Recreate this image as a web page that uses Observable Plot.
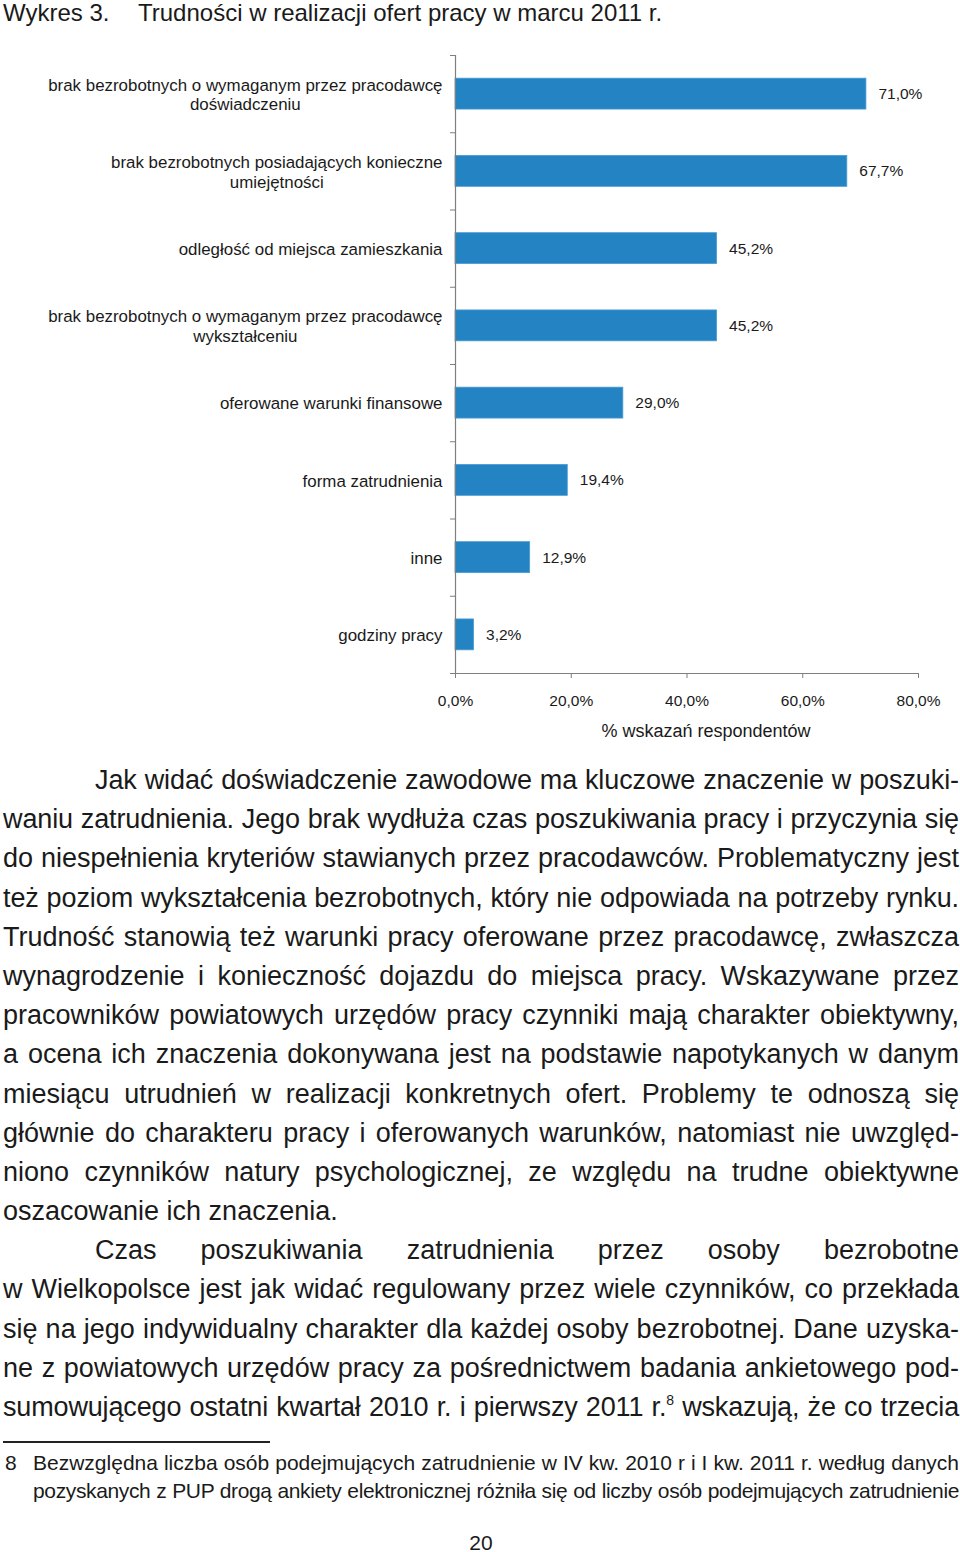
<!DOCTYPE html>
<html>
<head>
<meta charset="utf-8">
<script src="https://cdn.jsdelivr.net/npm/d3@7"></script>
<script src="https://cdn.jsdelivr.net/npm/@observablehq/plot@0.6"></script>
<style>
  html, body { margin: 0; padding: 0; background: #fff; }
  body { width: 960px; height: 1552px; position: relative; overflow: hidden;
         font-family: "Liberation Sans", Arial, sans-serif; color: #1a1a1a; }
  .abs { position: absolute; white-space: nowrap; }
  #title { top: 0; font-size: 24px; line-height: 26px; }
  #chart { position: absolute; left: 0; top: 30px; }
  #text { position: absolute; left: 3px; top: 761px; width: 956px; font-size: 27px; line-height: 39.2px; }
  .ln { text-align: justify; text-align-last: justify; white-space: nowrap; height: 39.2px; }
  .ln.last { text-align-last: left; }
  .ln.ind { padding-left: 92px; }
  sup { font-size: 14px; line-height: 0; vertical-align: 11px; }
  #rule { position: absolute; left: 3px; top: 1441px; width: 267px; height: 2px; background: #222; }
  #foot { position: absolute; left: 0; top: 1449px; width: 960px; font-size: 21px; line-height: 28px; }
  #foot .num { position: absolute; left: 5px; top: 0; }
  #foot .ft { position: absolute; left: 33px; width: 926px; }
  #page { position: absolute; left: 0; width: 962px; top: 1530px; text-align: center; font-size: 21px; line-height: 26px; }
</style>
</head>
<body>
<div id="title"><span class="abs" style="left:3px">Wykres 3.</span><span class="abs" style="left:138px">Trudności w realizacji ofert pracy w marcu 2011 r.</span></div>
<div id="chart"></div>
<div id="text"></div>
<div id="rule"></div>
<div id="foot"></div>
<div id="page">20</div>
<script>
// ---- chart data ----
const categories = [
  "brak bezrobotnych o wymaganym przez pracodawcę\ndoświadczeniu",
  "brak bezrobotnych posiadających konieczne\numiejętności",
  "odległość od miejsca zamieszkania",
  "brak bezrobotnych o wymaganym przez pracodawcę\nwykształceniu",
  "oferowane warunki finansowe",
  "forma zatrudnienia",
  "inne",
  "godziny pracy"
];
const values = [71.0, 67.7, 45.2, 45.2, 29.0, 19.4, 12.9, 3.2];
const xTicks = [0, 20, 40, 60, 80];
const xLabel = "% wskazań respondentów";

// ---- body text ----
const paragraphLines = [
  "Jak widać doświadczenie zawodowe ma kluczowe znaczenie w poszuki-",
  "waniu zatrudnienia. Jego brak wydłuża czas poszukiwania pracy i przyczynia się",
  "do niespełnienia kryteriów stawianych przez pracodawców. Problematyczny jest",
  "też poziom wykształcenia bezrobotnych, który nie odpowiada na potrzeby rynku.",
  "Trudność stanowią też warunki pracy oferowane przez pracodawcę, zwłaszcza",
  "wynagrodzenie i konieczność dojazdu do miejsca pracy. Wskazywane przez",
  "pracowników powiatowych urzędów pracy czynniki mają charakter obiektywny,",
  "a ocena ich znaczenia dokonywana jest na podstawie napotykanych w danym",
  "miesiącu utrudnień w realizacji konkretnych ofert. Problemy te odnoszą się",
  "głównie do charakteru pracy i oferowanych warunków, natomiast nie uwzględ-",
  "niono czynników natury psychologicznej, ze względu na trudne obiektywne",
  "oszacowanie ich znaczenia.",
  "Czas poszukiwania zatrudnienia przez osoby bezrobotne",
  "w Wielkopolsce jest jak widać regulowany przez wiele czynników, co przekłada",
  "się na jego indywidualny charakter dla każdej osoby bezrobotnej. Dane uzyska-",
  "ne z powiatowych urzędów pracy za pośrednictwem badania ankietowego pod-",
  "sumowującego ostatni kwartał 2010 r. i pierwszy 2011 r.^8 wskazują, że co trzecia"
];
const indentLines = [0, 12];
const lastLines = [11];
const footnoteNum = "8";
const footnoteLines = [
  "Bezwzględna liczba osób podejmujących zatrudnienie w IV kw. 2010 r i I kw. 2011 r. według danych",
  "pozyskanych z PUP drogą ankiety elektronicznej różniła się od liczby osób podejmujących zatrudnienie"
];

const fmt = v => v.toFixed(1).replace(".", ",") + "%";
const data = categories.map((c, i) => ({label: c, value: values[i]}));

const W = 960, H = 730, mL = 455, mR = 42, mT = 25, mB = 87;
const step = (H - mT - mB) / categories.length;
const axisColor = "#7f7f7f";

const plot = Plot.plot({
  width: W, height: H,
  marginLeft: mL, marginRight: mR, marginTop: mT, marginBottom: mB,
  style: {fontFamily: "'Liberation Sans', Arial, sans-serif", fontSize: "15px", color: "#1a1a1a", background: "white"},
  x: {domain: [0, 80], axis: null},
  y: {domain: categories, paddingInner: 0.6, paddingOuter: 0.3, round: false, axis: null},
  marks: [
    Plot.barX(data, {x: "value", y: "label", fill: "#2383c3", stroke: "#4a9bd3", strokeWidth: 0.8}),
    Plot.text(data, {x: "value", y: "label", text: d => fmt(d.value), textAnchor: "start", dx: 12, fontSize: 15.5, fill: "#1a1a1a"}),
    Plot.ruleX([0], {stroke: axisColor, strokeWidth: 1.2}),
    Plot.ruleY([categories[categories.length - 1]], {x1: 0, x2: 80, dy: step / 2, stroke: axisColor, strokeWidth: 1.2}),
    Plot.axisY({tickSize: 0, tickPadding: 13, fontSize: 16.9, lineHeight: 1.17, fill: "#1a1a1a", label: null}),
    Plot.axisY({tickSize: 5, tickFormat: () => "", dy: -step / 2, stroke: axisColor, label: null}),
    Plot.axisY({ticks: [categories[categories.length - 1]], tickSize: 5, tickFormat: () => "", dy: step / 2, stroke: axisColor, label: null}),
    Plot.axisX({ticks: xTicks, tickSize: 5, tickPadding: 16, tickFormat: fmt, fontSize: 15.5, stroke: axisColor, fill: "#1a1a1a", label: null}),
    Plot.text([xLabel], {frameAnchor: "bottom", dx: 19, dy: 63, fontSize: 18, fill: "#1a1a1a"})
  ]
});
document.getElementById("chart").appendChild(plot);

// center multi-line y labels like the original
plot.querySelectorAll("text").forEach(t => {
  const spans = t.querySelectorAll("tspan");
  if (spans.length > 1 && t.getAttribute("text-anchor") !== "middle") {
    let w = 0;
    spans.forEach(s => { w = Math.max(w, s.getComputedTextLength()); });
    t.setAttribute("text-anchor", "middle");
    spans.forEach(s => s.setAttribute("x", -w / 2));
  }
});

// ---- text body ----
const textDiv = document.getElementById("text");
const cv = document.createElement("canvas").getContext("2d");
cv.font = "27px 'Liberation Sans'";
paragraphLines.forEach((line, i) => {
  const d = document.createElement("div");
  d.className = "ln" + (indentLines.includes(i) ? " ind" : "") + (lastLines.includes(i) ? " last" : "");
  const parts = line.split("^");
  d.appendChild(document.createTextNode(parts[0]));
  if (parts.length > 1) {
    const sup = document.createElement("sup");
    sup.textContent = parts[1][0];
    d.appendChild(sup);
    d.appendChild(document.createTextNode(parts[1].slice(1)));
  }
  const avail = 956 - (indentLines.includes(i) ? 92 : 0);
  const nat = cv.measureText(line.replace("^", "")).width;
  if (nat > avail - 2) {
    d.style.letterSpacing = (-(nat - avail + 4) / line.length) + "px";
  }
  textDiv.appendChild(d);
});

const foot = document.getElementById("foot");
const fcv = document.createElement("canvas").getContext("2d");
fcv.font = "21px 'Liberation Sans'";
const n = document.createElement("div"); n.className = "num"; n.textContent = footnoteNum; foot.appendChild(n);
footnoteLines.forEach((l, i) => {
  const d = document.createElement("div");
  d.className = "ft ln"; d.style.top = (i * 28) + "px"; d.style.height = "28px";
  d.textContent = l;
  const nat = fcv.measureText(l).width;
  if (nat > 924) d.style.letterSpacing = (-(nat - 922) / l.length) + "px";
  foot.appendChild(d);
});
</script>
</body>
</html>
